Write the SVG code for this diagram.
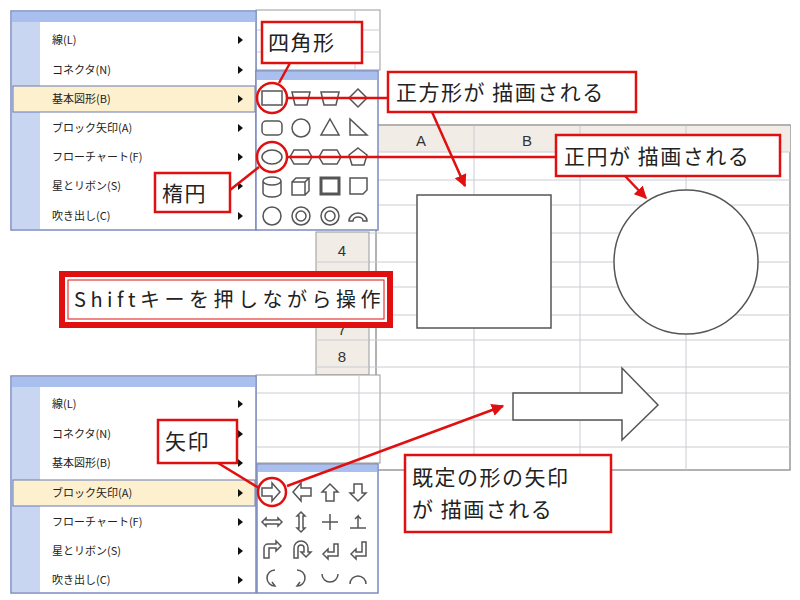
<svg xmlns="http://www.w3.org/2000/svg" width="800" height="600" viewBox="0 0 800 600">
<defs>
<style>
.menu{fill:#fff;stroke:#7b8bbf;stroke-width:1.5}
.strip{fill:#c9d6f2}
.bar{fill:#a9c0ef}
.mt{font-family:"Noto Sans CJK JP",sans-serif;font-size:11px;fill:#222}
.arr{fill:#111}
.hl{fill:#fdf0cf;stroke:#6a7bb5;stroke-width:1}
.ic{fill:none;stroke:#555;stroke-width:1.5}
.grid{stroke:#c8ccd4;stroke-width:1}
.call{fill:#fff;stroke:#e01010;stroke-width:2.5}
.ct{font-family:"Noto Sans CJK JP",sans-serif;font-size:21px;letter-spacing:1.5px;fill:#222}
.rl{stroke:#e01010;stroke-width:2.5;fill:none}
.hdt{font-family:"Liberation Sans",sans-serif;font-size:15px;fill:#333;text-anchor:middle}
.shape{fill:#fff;stroke:#555;stroke-width:1.5}
</style>
<marker id="ah" viewBox="0 0 10 10" refX="9" refY="5" markerWidth="5" markerHeight="5" orient="auto"><path d="M0,0L10,5L0,10z" fill="#e01010"/></marker>
</defs>
<rect width="800" height="600" fill="#fff"/>
<g id="sheet">
<rect x="376" y="125" width="414" height="345" fill="#fff" stroke="#999" stroke-width="1.5"/>
<rect x="376" y="126" width="414" height="26" fill="#f1ede6"/>
<g class="grid">
<line x1="376" y1="152" x2="790" y2="152"/>
<line x1="376" y1="180" x2="790" y2="180"/><line x1="376" y1="205" x2="790" y2="205"/>
<line x1="369" y1="233" x2="790" y2="233"/><line x1="369" y1="262" x2="790" y2="262"/>
<line x1="369" y1="287" x2="790" y2="287"/><line x1="369" y1="315" x2="790" y2="315"/>
<line x1="369" y1="340" x2="790" y2="340"/><line x1="369" y1="367" x2="790" y2="367"/>
<line x1="376" y1="393" x2="790" y2="393"/><line x1="376" y1="420" x2="790" y2="420"/>
<line x1="376" y1="447" x2="790" y2="447"/>
<line x1="474" y1="126" x2="474" y2="470"/><line x1="580" y1="126" x2="580" y2="470"/><line x1="686" y1="126" x2="686" y2="470"/>
</g>
<rect x="316" y="232" width="53" height="143" fill="#f1ede6" stroke="#999"/>
<g class="grid"><line x1="316" y1="262" x2="369" y2="262"/><line x1="316" y1="287" x2="369" y2="287"/><line x1="316" y1="315" x2="369" y2="315"/><line x1="316" y1="340" x2="369" y2="340"/><line x1="316" y1="367" x2="369" y2="367"/></g>
<text class="hdt" x="342" y="256">4</text><text class="hdt" x="342" y="283">5</text><text class="hdt" x="342" y="335">7</text><text class="hdt" x="342" y="362">8</text>
<text class="hdt" x="421" y="146">A</text><text class="hdt" x="527" y="146">B</text>
<rect class="shape" x="417" y="195" width="134" height="133"/>
<circle class="shape" cx="686" cy="262" r="72"/>
<path class="shape" d="M513,393H622V368L658,405L622,440V420H513Z"/>
</g>
<g id="menu-top">
<rect x="256" y="10" width="124" height="60" fill="#fff" stroke="#999"/>
<g class="grid"><line x1="256" y1="30" x2="380" y2="30"/><line x1="256" y1="52" x2="380" y2="52"/><line x1="355" y1="10" x2="355" y2="70"/></g>
<rect class="menu" x="11" y="11" width="245" height="219"/>
<rect class="bar" x="12" y="12" width="243" height="10"/>
<rect class="strip" x="12" y="22" width="28" height="207"/>
<rect class="hl" x="13" y="86" width="242" height="26"/>
<g class="mt"><text x="52" y="44">線(L)</text><text x="52" y="74">コネクタ(N)</text><text x="52" y="103">基本図形(B)</text><text x="52" y="132">ブロック矢印(A)</text><text x="52" y="161">フローチャート(F)</text><text x="52" y="190">星とリボン(S)</text><text x="52" y="220">吹き出し(C)</text></g>
<g class="arr"><path d="M238,36l5,4l-5,4z"/><path d="M238,66l5,4l-5,4z"/><path d="M238,95l5,4l-5,4z"/><path d="M238,124l5,4l-5,4z"/><path d="M238,153l5,4l-5,4z"/><path d="M238,182l5,4l-5,4z"/><path d="M238,212l5,4l-5,4z"/></g>
<rect class="menu" x="256" y="71" width="122" height="159"/>
<rect class="bar" x="257" y="72" width="120" height="8"/>
<g class="ic">
<rect x="262" y="91" width="20" height="14"/><path d="M292,92h18l-3,13h-12z"/><path d="M321,92h18l-3,13h-12z"/><path d="M358,89l9,9l-9,9l-9,-9z"/>
<rect x="262" y="121" width="20" height="14" rx="4"/><circle cx="301" cy="128" r="9"/><path d="M330,119l9,16h-18z"/><path d="M350,119v16h17z"/>
<ellipse cx="272" cy="157" rx="10" ry="7"/><path d="M294,150h14l4,7l-4,7h-14l-4,-7z"/><path d="M323,150h14l4,7l-4,7h-14l-4,-7z"/><path d="M358,148l9,7l-3,10h-12l-3,-10z"/>
<path d="M263,181v12a9,4 0 0 0 18,0v-12a9,4 0 0 0 -18,0a9,4 0 0 0 18,0"/><path d="M292,182h13v13h-13z M292,182l4,-4h13l-4,4 M309,178v13l-4,4"/><rect x="321" y="178" width="18" height="16" stroke-width="3"/><path d="M350,178h17v12l-4,4h-13z"/>
<circle cx="272" cy="216" r="9"/><circle cx="301" cy="216" r="9"/><circle cx="301" cy="216" r="5"/><circle cx="330" cy="216" r="9"/><circle cx="330" cy="216" r="5"/><path d="M349,221a9,8 0 0 1 18,0h-4a5,4 0 0 0 -10,0z"/>
</g>
</g>
<g id="menu-bottom">
<rect x="256" y="375" width="124" height="88" fill="#fff" stroke="#999"/>
<g class="grid"><line x1="256" y1="393" x2="380" y2="393"/><line x1="256" y1="420" x2="380" y2="420"/><line x1="256" y1="447" x2="380" y2="447"/><line x1="359" y1="375" x2="359" y2="463"/></g>
<rect class="menu" x="11" y="376" width="245" height="217"/>
<rect class="bar" x="12" y="377" width="243" height="10"/>
<rect class="strip" x="12" y="387" width="28" height="205"/>
<rect class="hl" x="13" y="480" width="242" height="26"/>
<g class="mt"><text x="52" y="408">線(L)</text><text x="52" y="438">コネクタ(N)</text><text x="52" y="467">基本図形(B)</text><text x="52" y="497">ブロック矢印(A)</text><text x="52" y="526">フローチャート(F)</text><text x="52" y="555">星とリボン(S)</text><text x="52" y="584">吹き出し(C)</text></g>
<g class="arr"><path d="M238,400l5,4l-5,4z"/><path d="M238,430l5,4l-5,4z"/><path d="M238,459l5,4l-5,4z"/><path d="M238,489l5,4l-5,4z"/><path d="M238,518l5,4l-5,4z"/><path d="M238,547l5,4l-5,4z"/><path d="M238,576l5,4l-5,4z"/></g>
<rect class="menu" x="257" y="464" width="121" height="129"/>
<rect class="bar" x="258" y="465" width="119" height="7"/>
<g class="ic">
<path d="M262,488h10v-5l8,9l-8,9v-5h-10z"/><path d="M311,488h-10v-5l-8,9l8,9v-5h10z"/><path d="M330,484l8,8h-4v9h-8v-9h-4z"/><path d="M358,501l8,-8h-4v-9h-8v9h-4z"/>
<path d="M266,518l-4,4l4,4v-2h12v2l4,-4l-4,-4v2h-12z"/><path d="M301,512l4,4h-2v12h2l-4,4l-4,-4h2v-12h-2z"/><path d="M330,514v16M322,522h16"/><path d="M350,528h16M358,528v-12l-3,3M358,516l3,3"/>
<path d="M264,558v-10a4,4 0 0 1 4,-4h8v-3l5,5l-5,5v-3h-7v10z"/><path d="M294,558v-10a7,7 0 0 1 14,0v4h3l-5,5l-5,-5h3v-4a3,3 0 0 0 -6,0v10z"/><path d="M338,544v12h-10v3l-5,-5l5,-5v3h6v-8z"/><path d="M366,542v14h-10v3l-5,-5l5,-5v3h6v-10z"/>
<path d="M275,570a8,8 0 0 0 0,16l-3,-4"/><path d="M297,570a8,8 0 0 1 0,16l3,-4"/><path d="M322,574a8,8 0 0 0 16,0"/><path d="M350,584a8,8 0 0 1 16,0"/>
</g>
</g>
<g id="connectors">
<line class="rl" x1="290" y1="63" x2="279" y2="83"/>
<line class="rl" x1="287" y1="98" x2="388" y2="98"/>
<line class="rl" x1="432" y1="112" x2="465" y2="186" marker-end="url(#ah)"/>
<line class="rl" x1="230" y1="190" x2="259" y2="167"/>
<line class="rl" x1="287" y1="157" x2="556" y2="157"/>
<line class="rl" x1="625" y1="176" x2="646" y2="198" marker-end="url(#ah)"/>
<line class="rl" x1="218" y1="463" x2="259" y2="488"/>
<line class="rl" x1="287" y1="486" x2="503" y2="406" marker-end="url(#ah)"/>
<circle class="rl" cx="272" cy="98" r="15"/>
<circle class="rl" cx="272" cy="157" r="15"/>
<circle class="rl" cx="272" cy="492" r="14"/>
</g>
<g id="label-square"><rect class="call" x="262" y="22" width="100" height="41"/><text class="ct" x="268" y="50">四角形</text></g>
<g id="label-seihoukei"><rect class="call" x="388" y="72" width="248" height="40"/><text class="ct" x="396" y="100">正方形が 描画される</text></g>
<g id="label-daen"><rect class="call" x="155" y="173" width="75" height="39"/><text class="ct" x="162" y="201">楕円</text></g>
<g id="label-seien"><rect class="call" x="556" y="135" width="224" height="41"/><text class="ct" x="564" y="164">正円が 描画される</text></g>
<g id="label-shift"><rect x="62" y="274" width="328" height="51" fill="#fff" stroke="#e01010" stroke-width="6"/><rect x="68" y="280" width="316" height="39" fill="none" stroke="#e01010" stroke-width="1"/><text class="ct" x="74" y="307" style="font-size:20px;letter-spacing:4.5px">Shiftキーを押しながら操作</text></g>
<g id="label-yajirushi"><rect class="call" x="158" y="420" width="79" height="43"/><text class="ct" x="165" y="449">矢印</text></g>
<g id="label-kitei"><rect class="call" x="405" y="455" width="206" height="77"/><text class="ct" x="412" y="485">既定の形の矢印</text><text class="ct" x="412" y="517">が 描画される</text></g>
</svg>
